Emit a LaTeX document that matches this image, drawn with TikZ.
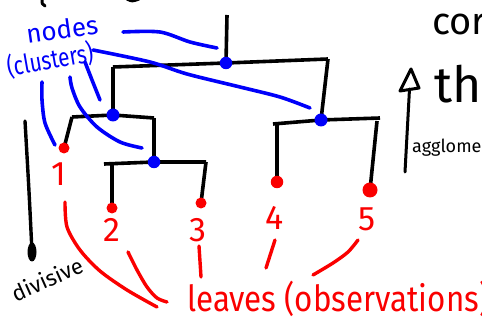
\documentclass[tikz,border=0pt]{standalone}
\usepackage{fontspec}
\setmainfont{Fira Sans}
\usepackage{graphicx}
\usetikzlibrary{arrows.meta,backgrounds,shapes.geometric}
\definecolor{penblue}{RGB}{0,0,250}
\definecolor{penred}{RGB}{250,0,0}
\begin{document}
\begin{tikzpicture}[x=1pt,y=-1pt,line cap=round,line join=round,
  tree/.style={draw=black,line width=3.6pt},
  blueline/.style={draw=penblue,line width=3.6pt},
  redline/.style={draw=penred,line width=3.4pt},
  bluedot/.style={circle,fill=penblue,inner sep=0pt,minimum size=#1},
  reddot/.style={circle,fill=penred,inner sep=0pt,minimum size=#1},
  bluetext/.style={text=penblue,inner sep=0pt},
  redtext/.style={text=penred,inner sep=0pt},
  blacktext/.style={text=black,inner sep=0pt}]
\useasboundingbox (0,0) rectangle (482,323);

% merge points (clusters)
\node[bluedot=12.5pt] (root) at (226,63) {};
\node[bluedot=13pt]   (nA)   at (113,115) {};
\node[bluedot=13pt]   (nB)   at (321,120) {};
\node[bluedot=12.5pt] (nC)   at (154,162) {};
% leaves
\node[reddot=11pt] (l1) at (64,148) {};
\node[reddot=11pt] (l2) at (112,208) {};
\node[reddot=11pt] (l3) at (201,203) {};
\node[reddot=12.5pt] (l4) at (277,182) {};
\node[reddot=15pt] (l5) at (370,190) {};

% corners of the dendrogram
\coordinate (rtop) at (227,15);
\coordinate (rL) at (113,67);
\coordinate (rR) at (328,59);
\coordinate (aL) at (72,117);
\coordinate (aR) at (154,118);
\coordinate (cL) at (104,164);
\coordinate (c2) at (112,164);
\coordinate (cR) at (206,162);
\coordinate (bL) at (273,124);
\coordinate (b4) at (277,123);
\coordinate (b5) at (377,121);
\coordinate (bR) at (380,118);

\begin{scope}[on background layer]
  \draw[tree] (rtop) -- (root.center);
  \draw[tree] (rL) -- (root.center) -- (rR);
  \draw[tree] (rL) -- (nA.center);
  \draw[tree] (rR) -- (nB.center);
  \draw[tree] (aL) -- (nA.center) -- (aR);
  \draw[tree] (aL) -- (l1.center);
  \draw[tree] (aR) -- (nC.center);
  \draw[tree] (cL) -- (nC.center) -- (cR);
  \draw[tree] (c2) -- (l2.center);
  \draw[tree] (cR) -- (l3.center);
  \draw[tree] (bL) -- (nB.center) -- (bR);
  \draw[tree] (b4) -- (l4.center);
  \draw[tree] (b5) -- (l5.center);
\end{scope}

% pen strokes cut off at the top edge
\draw[tree,line width=3pt] (42,-1) .. controls (42,4) .. (45,6);
\draw[tree,line width=3pt] (127,-1) .. controls (132,1.5) .. (139,-1);

% labels of the clusters
\node[bluetext,font=\fontsize{26}{26}\selectfont,rotate=8] (tnodes) at (62,29) {nodes};
\node[bluetext,font=\fontsize{26}{26}\selectfont,rotate=10] (tclus) at (50,60) {\scalebox{0.8}[1]{(clusters)}};

\draw[blueline] plot[smooth] coordinates {(123,32) (160,32) (190,42) (217,48)};
\draw[blueline] plot[smooth] coordinates {(93,50) (150,62) (187,74) (240,87) (280,97) (310,108)};
\draw[blueline] plot[smooth] coordinates {(85,62) (92,80) (100,100)};
\draw[blueline] plot[smooth] coordinates {(70,77) (72,88) (80,107) (97,127) (120,142) (142,148)};
\draw[blueline] plot[smooth] coordinates {(42,82) (42,100) (45,123) (55,145)};

% leaf numbers
\node[redtext,font=\fontsize{34}{34}\selectfont] (t1) at (59,174) {1};
\node[redtext,font=\fontsize{34}{34}\selectfont] (t2) at (112,230) {2};
\node[redtext,font=\fontsize{34}{34}\selectfont] (t3) at (198,230) {3};
\node[redtext,font=\fontsize{34}{34}\selectfont] (t4) at (275,218) {4};
\node[redtext,font=\fontsize{34}{34}\selectfont] (t5) at (367,219) {5};

\node[redtext,font=\fontsize{36}{36}\selectfont,anchor=base west] (tleaves) at (187,311)
  {\scalebox{0.87}[1]{leaves (observations)}};

\draw[redline] plot[smooth] coordinates {(65,202) (67,227) (80,250) (100,271) (127,290) (157,307)};
\draw[redline] plot[smooth] coordinates {(128,252) (137,270) (147,287) (157,298) (167,302)};
\draw[redline] (199,246) -- (201,277);
\draw[redline] (275,240) -- (266,268);
\draw[redline] plot[smooth] coordinates {(358,240) (348,252) (333,263) (313,275)};

% divisive direction: line ending in an inked blob
\node[ellipse,fill=black,inner sep=0pt,minimum width=9pt,minimum height=19pt] (dblob) at (32,252) {};
\coordinate (dtop) at (25,121);
\draw[tree,line width=3.4pt] (dtop) .. controls (29,190) .. (dblob.center);
\node[blacktext,font=\fontsize{22}{22}\selectfont,rotate=24] (tdiv) at (47,279) {divisive};

% agglomerative direction: line with an open triangular head
\coordinate (abot) at (405,172);
\coordinate (abase) at (409.5,89);
\coordinate (atipL) at (400,91);
\coordinate (atip) at (411,69);
\coordinate (atipR) at (419,88);
\draw[tree,line width=3pt] (abot) -- (abase);
\draw[tree,line width=3pt] (atipL) -- (atip) -- (atipR) -- cycle;

\node[blacktext,font=\fontsize{38}{38}\selectfont,anchor=base west] (tcor) at (432,35) {cor};
\node[blacktext,font=\fontsize{50}{50}\selectfont,anchor=base west] (tthe) at (434,103) {the};
\node[blacktext,font=\fontsize{18}{18}\selectfont,anchor=base west] (tagg) at (412,153) {agglomerative};
\end{tikzpicture}
\end{document}
